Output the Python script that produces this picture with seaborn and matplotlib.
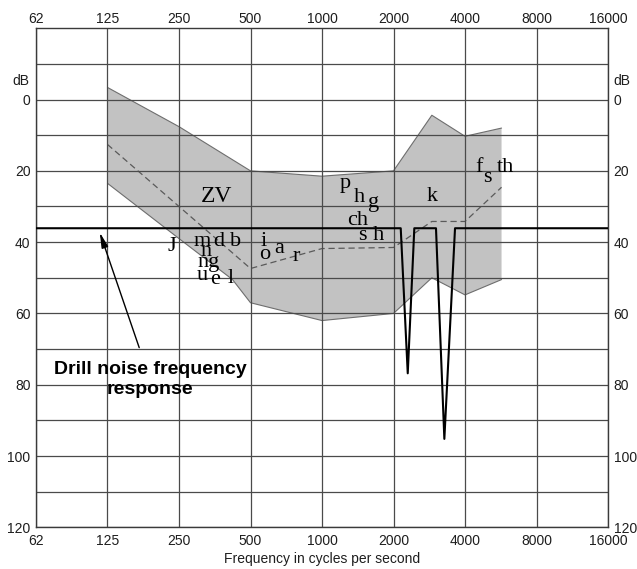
import matplotlib.pyplot as plt
import numpy as np
import pandas as pd
import seaborn as sns

#%% DATOS
frec_ticks = [62.5, 125, 250, 500, 1000, 2000, 4000, 8000, 16000]
frec_etiquetas = ["62", "125", "250", "500", "1000", "2000", "4000", "8000", "16000"]
db_ticks = [0, 20, 40, 60, 80, 100, 120]
db_minor = [-10, 10, 30, 50, 70, 90, 110]

# zona de la voz (borde superior e inferior)
frec_sup = [125, 250, 500, 1000, 2000, 2900, 4000, 5700]
db_sup = [-3.4, 7.6, 20, 21.5, 20, 4.4, 10.3, 8]
frec_inf = [125, 250, 420, 500, 1000, 2000, 2900, 4000, 5700]
db_inf = [23.5, 39, 50.5, 57, 62, 60, 50, 54.8, 50.5]

# linea punteada del medio
frec_media = [125, 500, 1000, 2000, 2900, 4000, 5700]
db_media = [12.6, 47.4, 41.8, 41.5, 34.2, 34.2, 24.6]

# respuesta del taladro
frec_taladro = [62.5, 2145, 2296, 2447, 3019, 3274, 3631, 16000]
db_taladro = [36.1, 36.1, 76.8, 36.1, 36.1, 95.2, 36.1, 36.1]

# fonemas
fonemas = ["ZV", "J", "m", "d", "b", "n", "ng", "u", "e", "l", "i", "o", "a", "r",
           "p", "h", "g", "ch", "s h", "k", "f", "s", "th"]
frec_fonemas = [361, 233, 313, 369, 434, 324, 332, 314, 354, 413, 570, 576, 663, 777,
                1254, 1431, 1656, 1409, 1614, 2905, 4582, 4983, 5894]
db_fonemas = [28.8, 42.4, 41.2, 41.2, 41.2, 44.0, 47.1, 50.7, 51.8, 51.5, 41.2, 44.6, 43.1, 45.2,
              24.9, 28.8, 30.2, 35.1, 39.4, 28.5, 20.2, 23.0, 20.2]

#%% GRAFICO
sns.set_style("white")
plt.rcParams['font.family'] = ['Liberation Sans', 'DejaVu Sans']

fig = plt.figure(figsize=(6.37, 5.69), dpi=100)
ax = fig.add_axes([0.0565, 0.0733, 0.898, 0.877])

poligono_x = frec_sup + frec_inf[::-1]
poligono_y = db_sup + db_inf[::-1]
ax.fill(poligono_x, poligono_y, color="#c2c2c2", lw=0, zorder=0.2)

sns.lineplot(x=frec_sup, y=db_sup, ax=ax, color="#6e6e6e", lw=0.8, zorder=0.3)
sns.lineplot(x=frec_inf, y=db_inf, ax=ax, color="#6e6e6e", lw=0.8, zorder=0.3)
sns.lineplot(x=frec_media, y=db_media, ax=ax, color="#5a5a5a", lw=0.9,
             linestyle=(0, (5, 3)), zorder=0.4)
sns.lineplot(x=frec_taladro, y=db_taladro, ax=ax, color="black", lw=1.5,
             sort=False, estimator=None, zorder=3)

for texto, fx, fy in zip(fonemas, frec_fonemas, db_fonemas):
    tam = 17 if texto == "ZV" else 16
    ax.text(fx, fy, texto, ha="center", va="baseline", fontsize=tam,
            family="Liberation Serif", color="black", zorder=4)

ax.annotate("", xy=(116, 37.3), xytext=(170, 69.6),
            arrowprops=dict(arrowstyle="-|>,head_width=0.2,head_length=0.9",
                            color="black", lw=1.0, shrinkA=0, shrinkB=0))
ax.text(189, 78.6, "Drill noise frequency\nresponse", ha="center", va="center",
        fontsize=14, fontweight="bold", linespacing=1.25, color="black", zorder=4)

ax.set_xscale("log", base=2)
ax.set_xlim(62.5, 16000)
ax.set_ylim(120, -20)
ax.set_xticks(frec_ticks)
ax.set_xticklabels(frec_etiquetas)
ax.xaxis.set_minor_locator(plt.NullLocator())
ax.set_yticks(db_ticks)
ax.set_yticks(db_minor, minor=True)
ax.grid(which="both", color="#4a4a4a", lw=0.9)
ax.set_axisbelow(True)

ax.tick_params(axis="x", which="both", length=0, labelsize=10, colors="#1e1e1e", pad=5)
ax.tick_params(axis="y", which="both", length=0, right=True, labelright=True,
               labelsize=10, colors="#1e1e1e", pad=4)
for lado in ax.spines.values():
    lado.set_color("#3a3a3a")
    lado.set_linewidth(1.0)

# etiquetas de arriba
ax_top = ax.twiny()
ax_top.set_xscale("log", base=2)
ax_top.set_xlim(ax.get_xlim())
ax_top.set_xticks(frec_ticks)
ax_top.set_xticklabels(frec_etiquetas)
ax_top.xaxis.set_minor_locator(plt.NullLocator())
ax_top.tick_params(axis="x", length=0, labelsize=10, colors="#1e1e1e", pad=1.5)
ax_top.grid(False)
for lado in ax_top.spines.values():
    lado.set_visible(False)

ax.text(-0.012, -5.2, "dB", transform=ax.get_yaxis_transform(), ha="right",
        va="center", fontsize=10, color="#1e1e1e")
ax.text(1.01, -5.2, "dB", transform=ax.get_yaxis_transform(), ha="left",
        va="center", fontsize=10, color="#1e1e1e")

ax.set_xlabel("Frequency in cycles per second", fontsize=10, color="#1e1e1e", labelpad=3)
ax.set_ylabel("")

fig.savefig("out.png", dpi=100)
